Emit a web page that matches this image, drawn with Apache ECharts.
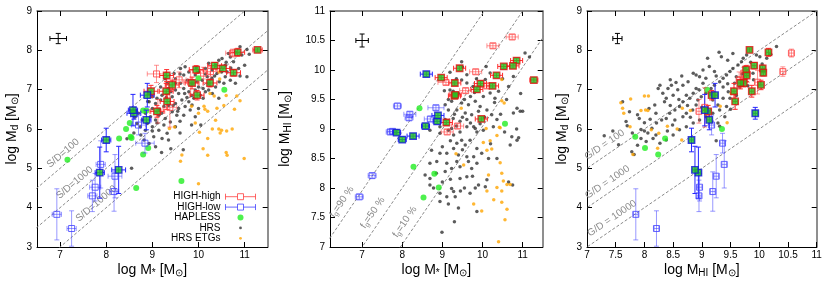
<!DOCTYPE html>
<html><head><meta charset="utf-8">
<script src="https://cdn.jsdelivr.net/npm/echarts@6/dist/echarts.min.js"></script>
<style>html,body{margin:0;padding:0;background:#fff}#c{width:830px;height:290px}</style>
</head><body><div id="c"></div>
<script>
var FF = '"Liberation Sans", Arial, Helvetica, sans-serif';

// HIGH-high galaxies: [logMstar, logMHI, logMdust, filled(HAPLESS), errMstar, errMHI, errMdust]
var highHigh = [
 [10.85,10.16,7.95,1,0.15,0.04,0.10],[11.28,9.83,8.01,1,0.10,0.04,0.05],[10.35,9.91,7.61,1,0.15,0.04,0.08],
 [10.53,10.06,7.54,1,0.15,0.04,0.08],[10.76,10.07,7.43,1,0.15,0.04,0.08],[9.95,9.77,7.51,1,0.15,0.04,0.10],
 [10.25,9.73,7.17,1,0.15,0.04,0.10],[9.97,9.17,6.86,1,0.15,0.04,0.12],[9.43,10.03,7.12,1,0.15,0.04,0.12],
 [9.31,9.78,7.36,1,0.15,0.04,0.15],[9.30,9.56,6.96,1,0.15,0.04,0.20],[8.97,9.87,6.96,1,0.15,0.04,0.15],
 [9.32,9.58,6.70,1,0.15,0.04,0.20],[9.10,9.11,6.45,1,0.15,0.04,0.15],[9.86,9.67,7.17,1,0.15,0.04,0.15],
 [9.09,9.79,7.40,0,0.20,0.04,0.22],[9.83,9.97,7.19,0,0.15,0.04,0.30],[9.58,9.65,7.25,0,0.15,0.04,0.20],
 [10.11,9.73,7.42,0,0.15,0.04,0.15],[10.26,10.41,7.46,0,0.15,0.04,0.12],[10.74,10.56,7.93,0,0.15,0.04,0.10],
 [9.38,9.05,6.55,0,0.15,0.04,0.50],[9.12,8.95,6.45,0,0.15,0.04,0.30]
];
// HIGH-low galaxies
var highLow = [
 [6.93,7.85,3.83,0,0.10,0.04,0.65],[7.25,8.21,3.47,0,0.10,0.04,0.45],[7.70,8.95,4.30,0,0.10,0.04,0.40],
 [7.76,8.96,4.52,0,0.12,0.04,0.35],[7.86,8.94,4.89,1,0.10,0.04,0.65],[7.88,9.39,5.10,0,0.10,0.04,0.60],
 [8.00,8.82,5.72,1,0.10,0.04,0.30],[8.17,9.19,4.41,0,0.10,0.04,0.50],[8.19,9.25,4.80,0,0.15,0.04,0.55],
 [8.27,8.88,4.96,1,0.15,0.04,0.60],[8.60,9.93,6.40,1,0.15,0.04,0.15],[8.58,9.05,6.48,1,0.10,0.04,0.40],
 [8.87,9.13,6.23,1,0.10,0.04,0.25],[8.89,9.23,6.86,1,0.15,0.04,0.30],[8.84,9.36,5.64,0,0.20,0.04,0.25],
 [8.70,9.17,6.10,0,0.15,0.04,0.25]
];
// HAPLESS: [logMstar, logMHI (null = no HI), logMdust]
var hapless = [
 [10.56,9.09,7.00],[8.43,9.35,6.00],[8.28,8.36,5.76],[8.80,8.24,5.35],[8.91,8.01,5.52],[8.53,7.84,5.80],
 [7.16,null,5.22],[8.65,null,4.50],[9.63,null,4.68],[8.51,null,6.15],[8.55,null,5.77],[8.80,null,6.47],
 [8.87,null,6.47],[10.00,null,7.29]
];
// HRS late types, per panel
var hrsMsMd = [
 [10.44,7.75],[10.51,7.79],[10.65,7.92],[10.69,7.83],[10.9,8.09],[11.05,8.02],[10.94,7.88],[10.58,7.62],[10.76,7.71],[10.37,7.62],
 [10.62,7.45],[10.87,7.54],[11.0,7.62],[11.05,7.33],[10.22,7.67],[10.15,7.54],[10.19,7.33],[10.29,7.29],[10.4,7.41],[10.08,7.24],
 [9.93,7.37],[9.79,7.45],[9.68,7.37],[9.76,7.24],[9.86,7.16],[10.0,7.07],[10.1,7.03],[10.22,6.99],[10.37,7.07],[9.61,7.16],
 [9.5,7.28],[9.47,7.41],[9.68,7.03],[9.57,6.9],[9.79,6.95],[9.9,6.78],[9.79,6.69],[9.64,6.74],[9.5,6.99],[9.43,6.82],
 [9.5,6.65],[9.57,6.52],[9.71,6.57],[9.82,6.48],[9.68,6.35],[9.53,6.35],[9.43,6.44],[9.25,6.57],[9.18,6.74],[9.21,6.86],
 [9.1,6.78],[9.07,6.65],[9.0,6.52],[9.14,6.35],[9.28,6.27],[9.39,6.18],[9.25,6.1],[9.07,6.23],[8.96,6.31],[8.89,6.14],
 [9.0,6.06],[9.14,5.97],[8.85,5.97],[8.74,6.06],[8.78,6.23],[8.67,6.14],[9.03,5.8],[9.21,5.76],[9.32,5.89],[8.82,5.72],
 [8.93,5.63],[9.07,5.55],[9.35,5.72],[9.5,6.06],[9.93,6.31],[10.04,6.86],[9.93,6.99],[10.1,6.78],[10.22,7.16],[10.55,7.16],
 [10.69,7.24],[10.8,7.16],[10.58,7.33],[9.71,7.58],[9.61,7.54],[9.32,7.16],[9.35,7.03],[9.0,6.82],[8.93,6.69],[9.18,7.07],
 [9.5,7.16],[9.28,7.28],[9.97,7.2],[10.44,6.78],[9.86,6.61],[10.0,6.52],[8.55,5.0],[9.67,5.47],[8.62,6.3],[8.7,6.4],
 [8.75,5.85],[8.6,5.9],[9.6,5.9],[9.85,6.1],[10.05,6.1],[9.4,5.5],[8.9,6.7],[9.15,6.5],[9.35,6.6],[9.6,6.2],
 [10.15,7.4],[10.3,7.5],[10.6,7.7],[10.8,7.95],[10.7,7.55],[10.9,7.35],[10.45,7.2],[10.3,6.9],[9.85,6.85],[9.75,6.8],
 [9.95,7.55],[9.6,7.4],[9.4,6.95],[9.3,6.8],[9.45,6.6],[9.2,6.4],[8.85,6.4],[9.1,6.15],[9.55,6.45],[10.15,6.95],
 [10.5,7.45],[11.1,7.9],[10.35,7.35],[9.0,5.95],[9.7,6.9],[10.0,7.45],[9.2,5.4],[8.45,5.75]
];
var hrsMsHI = [
 [9.48,10.14],[9.19,9.96],[9.61,9.92],[9.48,9.83],[9.19,9.66],[9.27,9.64],[9.4,9.6],[9.61,9.78],[9.77,9.72],[10.09,10.06],
 [10.19,9.95],[10.07,9.84],[9.8,9.62],[10.02,9.55],[10.19,9.61],[10.31,9.52],[10.4,9.64],[10.65,9.72],[10.77,9.89],[11.06,10.29],
 [11.17,10.22],[9.48,9.44],[9.65,9.41],[9.82,9.47],[9.94,9.38],[9.23,9.47],[9.07,9.41],[9.15,9.32],[9.36,9.32],[9.57,9.27],
 [9.73,9.24],[9.9,9.3],[10.11,9.32],[10.23,9.24],[10.36,9.16],[10.77,9.27],[10.86,9.35],[10.94,9.3],[9.61,9.16],[9.44,9.13],
 [9.27,9.18],[9.07,9.16],[8.94,9.04],[9.61,9.04],[9.82,9.01],[9.94,9.09],[10.27,9.04],[9.23,9.01],[8.69,8.98],[8.94,8.93],
 [9.15,8.98],[9.28,8.9],[9.44,8.95],[9.78,9.04],[9.86,8.95],[10.02,8.98],[9.48,8.81],[9.36,8.76],[9.57,8.73],[9.69,8.81],
 [9.86,8.67],[9.28,8.67],[9.11,8.59],[8.94,8.59],[8.73,8.64],[9.4,8.56],[9.61,8.53],[9.78,8.53],[9.98,8.59],[9.36,8.45],
 [9.11,8.42],[8.86,8.45],[8.69,8.42],[8.57,8.22],[8.69,8.16],[9.07,8.28],[9.23,8.33],[9.44,8.36],[9.73,8.33],[9.61,8.19],
 [9.86,8.42],[10.73,8.87],[10.86,8.81],[10.69,8.73],[10.36,8.5],[9.82,8.0],[9.9,8.05],[10.07,8.02],[9.23,7.99],[9.28,7.94],
 [9.11,7.85],[8.94,7.77],[9.15,7.73],[9.4,7.66],[9.86,7.6],[9.3,7.43],[8.99,7.25],[8.94,7.91],[8.78,8.0],[8.69,8.05],
 [9.44,8.16],[10.11,8.14],[9.32,7.85],[9.69,7.91],[10.9,8.85],[11.0,9.3],[10.65,8.1],[10.75,8.05],[10.85,9.0],[10.2,8.75],
 [10.55,8.95],[10.3,9.45],[10.5,9.85],[10.95,9.6],[10.45,9.25],[9.5,10.05],[9.35,9.85],[9.85,9.85],[9.7,9.55],[9.05,9.65],
 [9.55,9.5],[9.3,9.25],[9.5,9.2],[9.2,8.8],[9.5,8.65],[9.0,8.7],[9.65,8.45],[9.2,8.15],[9.55,8.0],[8.85,8.25],
 [9.45,7.95],[9.0,8.1],[9.75,8.2],[10.15,8.5],[9.35,9.05],[9.7,9.1],[10.05,9.2],[10.6,9.5],[9.15,9.5]
];
var hrsHIMd = [
 [7.62,6.69],[7.7,6.08],[7.91,6.27],[8.0,6.16],[7.94,5.99],[8.24,7.03],[8.27,7.11],[8.38,6.78],[8.35,6.69],[8.5,6.86],
 [8.55,7.18],[8.58,7.0],[8.67,7.11],[8.76,7.2],[8.85,7.42],[8.9,7.37],[8.96,7.33],[9.02,7.16],[8.73,6.86],[8.79,6.78],
 [8.67,6.69],[8.61,6.57],[8.53,6.48],[8.44,6.4],[8.38,6.27],[8.3,6.23],[8.21,6.15],[8.13,6.02],[8.06,5.9],[8.15,5.76],
 [8.27,5.64],[8.03,5.68],[7.94,5.76],[7.88,5.59],[7.79,5.9],[8.49,6.1],[8.53,6.23],[8.67,6.31],[8.73,6.4],[8.84,6.48],
 [8.9,6.61],[8.93,6.74],[8.99,6.82],[9.07,6.91],[9.16,7.03],[9.22,7.11],[9.31,7.2],[9.37,7.29],[9.43,7.37],[9.49,7.46],
 [9.54,7.54],[9.63,7.63],[9.69,7.71],[9.72,7.8],[9.78,7.88],[9.95,7.88],[10.01,7.84],[10.13,7.8],[10.3,8.1],[9.54,7.92],
 [9.34,7.84],[9.13,7.59],[9.22,7.46],[9.02,7.5],[9.07,7.29],[8.9,7.03],[8.85,6.91],[9.19,6.74],[9.28,6.61],[9.37,6.78],
 [9.46,6.95],[9.57,7.16],[9.6,7.33],[9.66,7.07],[9.31,6.48],[9.43,6.57],[9.19,6.4],[9.07,6.31],[8.96,6.23],[8.85,6.15],
 [8.73,6.06],[8.61,5.98],[8.5,5.85],[8.38,5.72],[7.68,6.19],[7.74,6.44],[7.88,6.36],[8.08,6.52],[8.18,6.61],[8.32,6.91],
 [8.41,7.03],[8.47,7.11],[9.89,7.42],[9.37,7.07],[9.49,6.78],[9.28,6.15],[9.4,6.31],[7.3,5.83],[7.78,5.42],[9.25,5.7],
 [9.31,6.07],[7.45,5.95],[7.55,5.6],[7.82,5.35],[8.65,7.35],[8.45,7.25],[9.1,7.8],[9.3,7.95],[9.45,7.75],[9.75,7.55],
 [9.85,7.7],[10.05,7.65],[10.2,7.9],[9.9,7.25],[9.6,6.85],[9.8,7.1],[9.0,6.55],[8.8,6.3],[8.6,6.75],[8.2,6.4],
 [8.1,6.25],[8.45,6.6],[9.15,6.9],[9.45,7.15],[9.7,7.4],[8.95,7.0],[9.25,7.35],[8.75,6.6],[8.4,5.95],[8.2,5.85],
 [8.0,5.95],[9.5,6.5]
];
// HRS early types, per panel
var etgMsMd = [
 [10.46,7.27],[10.34,6.84],[10.14,6.5],[10.2,6.45],[10.12,6.58],[10.0,6.4],[10.4,6.53],[10.83,6.84],[10.9,6.72],[9.93,6.15],
 [9.48,6.05],[9.37,6.01],[10.37,6.22],[10.44,6.0],[10.61,5.95],[10.5,5.97],[10.73,6.0],[10.2,5.76],[10.1,5.5],[10.2,5.33],
 [10.6,5.4],[10.62,5.33],[10.99,5.25],[9.64,5.34],[9.61,5.18],[10.0,4.61],[10.47,5.9],[10.3,6.0],[9.85,6.58],[10.55,6.6],
 [10.25,6.9],[10.6,6.85],[10.02,5.92],[10.78,6.5],[10.45,7.45]
];
var etgMsHI = [
 [10.44,9.02],[10.36,8.89],[10.02,8.77],[10.19,8.8],[10.23,8.66],[10.11,8.64],[9.34,8.58],[9.53,8.39],[10.44,8.43],[10.15,8.22],
 [10.48,8.25],[10.52,8.12],[10.61,8.06],[10.69,8.06],[10.36,8.01],[10.11,7.95],[10.48,7.95],[10.28,7.8],[9.78,7.73],[9.98,7.61],
 [10.48,7.76],[10.61,7.64],[10.56,7.46],[10.4,7.09],[10.48,9.84],[9.47,9.35],[10.48,9.48],[10.54,9.44],[10.42,9.03],[10.09,9.01]
];
var etgHIMd = [
 [7.59,6.67],[7.62,6.53],[7.64,6.4],[7.76,6.76],[8.0,6.84],[8.07,6.84],[7.94,6.47],[8.02,6.48],[8.06,6.47],[8.25,5.89],
 [8.12,5.98],[8.23,5.51],[8.66,6.53],[8.57,6.0],[8.65,5.72],[8.8,6.47],[9.51,6.9],[9.44,6.16],[7.75,6.06],[7.8,5.35],
 [8.4,6.07],[9.32,6.58]
];
// typical error crosses [x, y, ex, ey]
var typErr1 = [[6.96, 8.30, 0.18, 0.13]];
var typErr2 = [[7.00, 10.50, 0.155, 0.11]];
var typErr3 = [[7.53, 8.30, 0.08, 0.13]];
// reference lines
var sdRatios = [100, 1000, 10000];
var sdLabels = ['S/D=100', 'S/D=1000', 'S/D=10000'];
var gasFractions = [0.9, 0.5, 0.1];
var fgLabels = ['{a|f}{b|g}{a|=90 %}', '{a|f}{b|g}{a|=50 %}', '{a|f}{b|g}{a|=10 %}'];
var gdRatios = [100, 1000, 10000];
var gdLabels = ['G/D = 100', 'G/D = 1000', 'G/D = 10000'];

// ---------------------------------------------------------------
var chart = echarts.init(document.getElementById('c'), null, {renderer: 'canvas'});

var RED = '#ff2a2a', REDL = 'rgba(255,60,60,0.55)', BLUE = '#2424ff', BLUEL = 'rgba(70,70,255,0.55)';
var GREEN = '#22ee22', GFILL = '#22c422', DARK = '#333333', ORANGE = '#ffa500', LINEC = '#8a8a8a';

var nameRich = {
  m: {fontSize: 14, fontFamily: FF, color: '#000', lineHeight: 16},
  s: {fontSize: 10, fontFamily: FF, color: '#000', lineHeight: 8, verticalAlign: 'bottom'}
};

function proj(arr, xi, yi, exi, eyi, filled) {
  return arr.filter(function (r) { return (filled == null || r[3] === filled) && r[xi] != null && r[yi] != null; })
            .map(function (r) { return [r[xi], r[yi], r[exi], r[eyi]]; });
}
function proj2(arr, xi, yi) {
  return arr.filter(function (r) { return r[xi] != null && r[yi] != null; })
            .map(function (r) { return [r[xi], r[yi]]; });
}

function errSeries(p, data, color, width, z) {
  return {
    type: 'custom', xAxisIndex: p, yAxisIndex: p, data: data, silent: true, z: z || 4, clip: false,
    encode: {x: 0, y: 1}, animation: false,
    renderItem: function (params, api) {
      var x = api.value(0), y = api.value(1), ex = api.value(2), ey = api.value(3);
      var st = {stroke: color, lineWidth: width || 1, fill: null};
      var cap = 2.5, ch = [];
      function ln(x1, y1, x2, y2) { ch.push({type: 'line', shape: {x1: x1, y1: y1, x2: x2, y2: y2}, style: st}); }
      if (ex > 0) {
        var a = api.coord([x - ex, y]), b = api.coord([x + ex, y]);
        ln(a[0], a[1], b[0], b[1]); ln(a[0], a[1] - cap, a[0], a[1] + cap); ln(b[0], b[1] - cap, b[0], b[1] + cap);
      }
      if (ey > 0) {
        var t = api.coord([x, y + ey]), d = api.coord([x, y - ey]);
        ln(t[0], t[1], d[0], d[1]); ln(t[0] - cap, t[1], t[0] + cap, t[1]); ln(d[0] - cap, d[1], d[0] + cap, d[1]);
      }
      return {type: 'group', children: ch};
    }
  };
}
function sc(name, p, data, symbol, size, style, z) {
  return {type: 'scatter', name: name, xAxisIndex: p, yAxisIndex: p, data: data, symbol: symbol,
          symbolSize: size, itemStyle: style, z: z, silent: true, animation: false, emphasis: {disabled: true}};
}
function refLine(p, off) {
  return {type: 'line', xAxisIndex: p, yAxisIndex: p, data: [[5, 5 + off], [13, 13 + off]], showSymbol: false,
          symbol: 'none', silent: true, clip: true, z: 1, animation: false,
          lineStyle: {color: LINEC, width: 1, type: [3, 2]}};
}
function labelSeries(p, pts, texts, rich) {
  var GAP = 4.5;
  return {
    type: 'custom', xAxisIndex: p, yAxisIndex: p, data: pts, silent: true, z: 2, clip: false, animation: false,
    encode: {x: 0, y: 1},
    renderItem: function (params, api) {
      var x = api.value(0), y = api.value(1);
      var c = api.coord([x, y]), c2 = api.coord([x + 1, y + 1]);
      var ang = Math.atan2(c[1] - c2[1], c2[0] - c[0]);
      var style = {text: texts[params.dataIndex], fill: LINEC, fontSize: 10, fontFamily: FF,
                   align: 'center', verticalAlign: 'bottom'};
      if (rich) style.rich = rich;
      return {type: 'text', x: c[0] - GAP * Math.sin(ang), y: c[1] - GAP * Math.cos(ang), rotation: ang, style: style};
    }
  };
}

var grids = [
  {left: 37, top: 11, width: 230.7, height: 236},
  {left: 330, top: 11, width: 212.7, height: 236},
  {left: 587, top: 11, width: 229.7, height: 236}
];
function axis(o) {
  var a = {
    type: 'value', gridIndex: o.g, position: o.pos, min: o.min, max: o.max,
    axisLine: {show: true, onZero: false, lineStyle: {color: o.mirror ? '#6a6a6a' : '#000', width: o.mirror ? 1.5 : 1}},
    axisTick: {show: true, inside: true, length: 5, lineStyle: {color: '#000', width: 1}},
    axisLabel: {show: !o.mirror, fontSize: 10, color: '#000', fontFamily: FF, margin: o.margin || 4},
    splitLine: {show: false}, splitArea: {show: false}, silent: true
  };
  if (o.interval) a.interval = o.interval;
  if (o.custom) { a.axisTick.customValues = o.custom; a.axisLabel.customValues = o.custom; }
  if (o.name && !o.mirror) {
    a.name = o.name; a.nameLocation = 'middle'; a.nameGap = o.gap; a.nameRotate = o.rot || 0;
    a.nameTextStyle = {rich: nameRich}; a.nameMoveOverlap = false;
  }
  return a;
}
var ticks7to11 = [7, 8, 9, 10, 11];
var xNames = ['{m|log M}{s|*}{m| [M}{s|⊙}{m|]}', '{m|log M}{s|*}{m| [M}{s|⊙}{m|]}', '{m|log M}{s|HI}{m| [M}{s|⊙}{m|]}'];
var yNames = ['{m|log M}{s|d}{m| [M}{s|⊙}{m|]}', '{m|log M}{s|HI}{m| [M}{s|⊙}{m|]}', '{m|log M}{s|d}{m| [M}{s|⊙}{m|]}'];
var xCfg = [{min: 6.5, max: 11.5, custom: ticks7to11}, {min: 6.2, max: 11.5, custom: ticks7to11}, {min: 7, max: 11, interval: 0.5}];
var yCfg = [{min: 3, max: 9, interval: 1, gap: 17}, {min: 7, max: 11, interval: 0.5, gap: 37}, {min: 3, max: 9, interval: 1, gap: 17}];

var xAxes = [], yAxes = [];
[false, true].forEach(function (mir) {
  for (var g = 0; g < 3; g++) {
    xAxes.push(axis(Object.assign({g: g, pos: mir ? 'top' : 'bottom', mirror: mir, name: xNames[g], gap: 15, margin: 3}, xCfg[g])));
    yAxes.push(axis(Object.assign({g: g, pos: mir ? 'right' : 'left', mirror: mir, name: yNames[g], rot: 90, margin: 5}, yCfg[g])));
  }
});

var series = [];
var P = [
  {xi: 0, yi: 2, exi: 4, eyi: 6, hrs: hrsMsMd, etg: etgMsMd, typ: typErr1},
  {xi: 0, yi: 1, exi: 4, eyi: 5, hrs: hrsMsHI, etg: etgMsHI, typ: typErr2},
  {xi: 1, yi: 2, exi: 5, eyi: 6, hrs: hrsHIMd, etg: etgHIMd, typ: typErr3}
];
sdRatios.forEach(function (r) { series.push(refLine(0, -Math.log10(r))); });
gasFractions.forEach(function (f) { series.push(refLine(1, Math.log10(f / (1 - f)))); });
gdRatios.forEach(function (r) { series.push(refLine(2, -Math.log10(r))); });
var sdX = [7.2, 7.45, 7.92];
series.push(labelSeries(0, sdRatios.map(function (r, i) { return [sdX[i], sdX[i] - Math.log10(r)]; }), sdLabels));
var fgX = [6.71, 7.48, 8.28];
var fgRich = {a: {fontSize: 10, fontFamily: FF, fill: LINEC, lineHeight: 12},
              b: {fontSize: 7, fontFamily: FF, fill: LINEC, lineHeight: 7, verticalAlign: 'bottom'}};
series.push(labelSeries(1, gasFractions.map(function (f, i) { return [fgX[i], fgX[i] + Math.log10(f / (1 - f))]; }), fgLabels, fgRich));
var gdX = [7.40, 7.45, 7.53];
series.push(labelSeries(2, gdRatios.map(function (r, i) { return [gdX[i], gdX[i] - Math.log10(r)]; }), gdLabels));

P.forEach(function (q, p) {
  series.push(sc('HRS', p, q.hrs, 'circle', 3.5, {color: DARK}, 2));
  series.push(sc('HRS ETGs', p, q.etg, 'circle', 3.5, {color: ORANGE}, 2));
  var hap = p === 0 ? proj2(hapless, 0, 2) : (p === 1 ? proj2(hapless, 0, 1) : proj2(hapless, 1, 2));
  series.push(sc('HAPLESS', p, hap, 'circle', 6, {color: GREEN}, 3));
  series.push(errSeries(p, proj(highHigh, q.xi, q.yi, q.exi, q.eyi, 0), REDL, 1, 4));
  series.push(errSeries(p, proj(highLow, q.xi, q.yi, q.exi, q.eyi, 0), BLUEL, 1, 4));
  series.push(errSeries(p, proj(highHigh, q.xi, q.yi, q.exi, q.eyi, 1), RED, 1, 4));
  series.push(errSeries(p, proj(highLow, q.xi, q.yi, q.exi, q.eyi, 1), BLUE, 1, 4));
  series.push(sc('HIGH-high', p, proj(highHigh, q.xi, q.yi, q.exi, q.eyi, 0), 'rect', 6,
                 {color: 'rgba(0,0,0,0)', borderColor: '#ff4040', borderWidth: 1}, 5));
  series.push(sc('HIGH-low', p, proj(highLow, q.xi, q.yi, q.exi, q.eyi, 0), 'rect', 6,
                 {color: 'rgba(0,0,0,0)', borderColor: '#4040ff', borderWidth: 1}, 5));
  series.push(sc('HIGH-high-f', p, proj(highHigh, q.xi, q.yi, q.exi, q.eyi, 1), 'rect', 6.5,
                 {color: GFILL, borderColor: '#e01010', borderWidth: 1.3}, 6));
  series.push(sc('HIGH-low-f', p, proj(highLow, q.xi, q.yi, q.exi, q.eyi, 1), 'rect', 6.5,
                 {color: GFILL, borderColor: '#1010e0', borderWidth: 1.3}, 6));
  series.push(errSeries(p, q.typ, '#000', 1, 6));
});

var errIcon = 'path://M0,0L0,6M0,3L12,3M12,0L18,0L18,6L12,6L12,0M18,3L30,3M30,0L30,6';
var dotIcon = 'path://M0,0M6,6M1.6,3a1.4,1.4 0 1,0 2.8,0a1.4,1.4 0 1,0 -2.8,0Z';

chart.setOption({
  animation: false,
  backgroundColor: '#fff',
  grid: grids,
  xAxis: xAxes,
  yAxis: yAxes,
  legend: {
    orient: 'vertical', align: 'right', right: 574, top: 191.5,
    itemWidth: 30, itemHeight: 6, itemGap: 0, padding: 0, selectedMode: false,
    textStyle: {fontSize: 10, fontFamily: FF, color: '#000', lineHeight: 10.4},
    data: [
      {name: 'HIGH-high', icon: errIcon, itemStyle: {color: 'rgba(0,0,0,0)', borderColor: '#ff4040', borderWidth: 1}},
      {name: 'HIGH-low', icon: errIcon, itemStyle: {color: 'rgba(0,0,0,0)', borderColor: '#4040ff', borderWidth: 1}},
      {name: 'HAPLESS', icon: 'circle', itemStyle: {color: GREEN, borderWidth: 0}},
      {name: 'HRS', icon: dotIcon, itemStyle: {color: DARK, borderWidth: 0}},
      {name: 'HRS ETGs', icon: dotIcon, itemStyle: {color: ORANGE, borderWidth: 0}}
    ]
  },
  series: series
});
</script></body></html>
